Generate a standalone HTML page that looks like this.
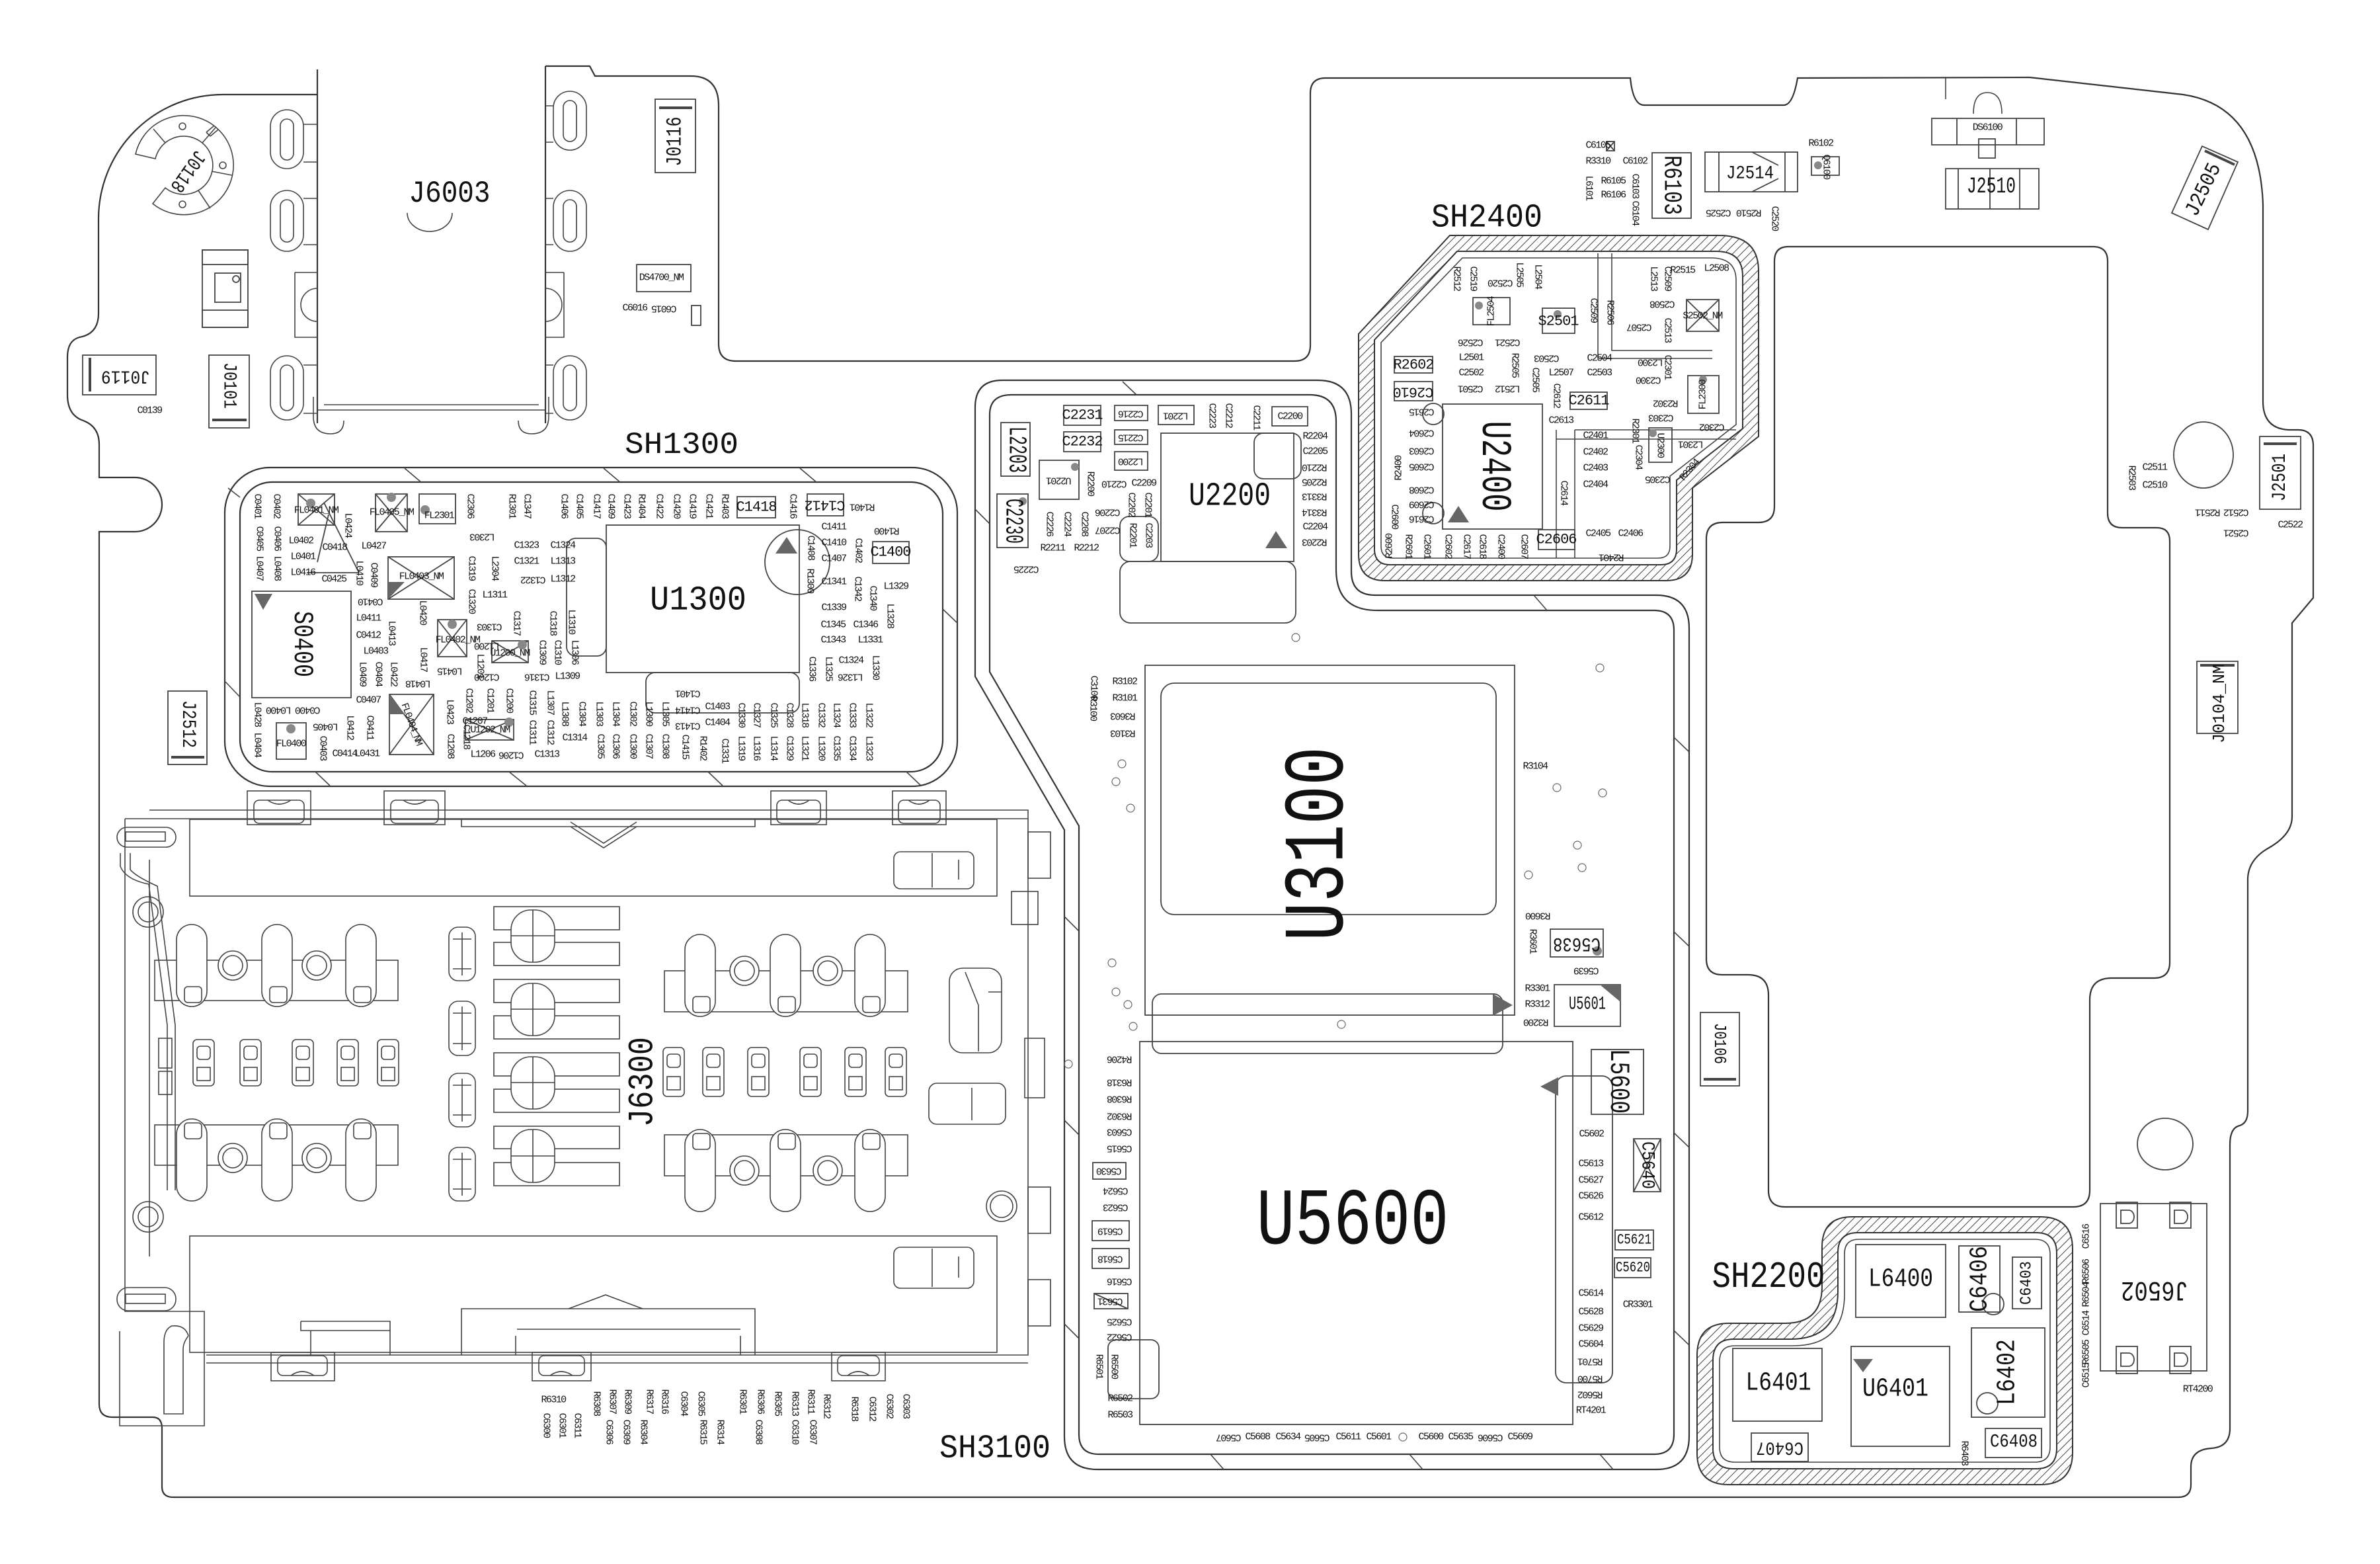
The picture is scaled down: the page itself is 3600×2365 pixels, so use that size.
<!DOCTYPE html>
<html><head><meta charset="utf-8">
<style>
html,body{margin:0;padding:0;background:#fff;}
svg{display:block;}
text{font-family:"Liberation Mono","DejaVu Sans Mono",monospace;fill:#111;}
.t{text-anchor:middle;dominant-baseline:central;}
.s{font-size:15px;letter-spacing:-1.6px;}
.m{font-size:22px;letter-spacing:-1px;}
.ln{fill:none;stroke:#333;stroke-width:2.2;}
.th{fill:none;stroke:#444;stroke-width:1.6;}
.bx{fill:none;stroke:#444;stroke-width:1.8;}
</style></head>
<body>
<svg width="3600" height="2365" viewBox="0 0 3600 2365" xmlns="http://www.w3.org/2000/svg">
<defs>
<pattern id="h" width="9" height="9" patternUnits="userSpaceOnUse" patternTransform="rotate(45)">
<rect width="9" height="9" fill="#fff"/><line x1="0" y1="0" x2="0" y2="9" stroke="#444" stroke-width="2"/>
</pattern>
</defs>
<rect width="3600" height="2365" fill="#fff"/>

<!-- BOARD OUTLINE -->
<path class="ln" d="M 474,143 L 337,143 A 188 188 0 0 0 149,331 L 149,474 Q 149,505 120,510 Q 102,515 102,540 L 102,597 Q 102,628 126,636 Q 150,645 150,672 L 150,722 L 204,722 A 41 41 0 0 1 204,804 L 150,804 L 150,2123 Q 150,2143 170,2143 L 231,2143 Q 245,2143 245,2160 L 245,2248 Q 245,2264 262,2264 L 3295,2264 Q 3314,2264 3314,2245 L 3314,2218 Q 3314,2192 3345,2190 Q 3373,2188 3373,2160 L 3373,1731 Q 3373,1705 3388,1702 Q 3400,1698 3400,1680 L 3400,1330 Q 3400,1300 3432,1282 Q 3467,1262 3467,1235 L 3467,942 L 3499,904 L 3499,674 Q 3499,650 3476,650 L 3462,650 Q 3423,648 3423,607 L 3423,310 Q 3418,160 3302,143 L 3070,117 L 2719,118 Q 2712,159 2698,159 L 2487,159 Q 2470,159 2466,118 L 2005,118 Q 1982,118 1982,141 L 1982,522 Q 1982,546 1958,546 L 1113,546 Q 1087,546 1087,520 L 1087,160 Q 1087,115 1045,115 L 900,115 L 892,100 L 825,100"/>
<path class="th" d="M 2943,118 L 2943,150 M 2985,172 Q 2985,140 3006,140 Q 3028,140 3028,172"/>

<!-- J6003 connector -->
<path class="ln" d="M 474,143 L 480,143 M 480,105 L 480,640 M 825,100 L 825,640"/>
<path class="th" d="M 490,612 L 815,612 M 480,620 L 825,620 M 474,600 L 474,630 Q 474,656 500,656 Q 520,656 520,636 M 830,600 L 830,630 Q 830,656 804,656 Q 784,656 784,636"/>
<g class="th">
<rect x="409" y="166" width="50" height="89" rx="25"/><rect x="424" y="180" width="20" height="62" rx="10"/>
<rect x="409" y="288" width="50" height="92" rx="25"/><rect x="424" y="302" width="20" height="64" rx="10"/>
<rect x="409" y="538" width="50" height="97" rx="25"/><rect x="424" y="552" width="20" height="69" rx="10"/>
<rect x="837" y="138" width="50" height="89" rx="25"/><rect x="852" y="152" width="20" height="62" rx="10"/>
<rect x="837" y="288" width="50" height="92" rx="25"/><rect x="852" y="302" width="20" height="64" rx="10"/>
<rect x="837" y="538" width="50" height="97" rx="25"/><rect x="852" y="552" width="20" height="69" rx="10"/>
<path d="M 446,412 L 480,412 M 446,412 L 446,510 L 480,510 M 480,436 A 23 23 0 0 0 480,486"/>
<path d="M 853,412 L 825,412 M 853,412 L 853,510 L 825,510 M 825,436 A 23 23 0 0 1 825,486"/>
<path d="M 459,188 L 480,188 M 459,245 L 480,245 M 459,300 L 480,300 M 459,370 L 480,370 M 459,552 L 480,552 M 459,625 L 480,625"/>
<path d="M 825,160 L 837,160 M 825,215 L 837,215 M 825,300 L 837,300 M 825,370 L 837,370 M 825,552 L 837,552 M 825,625 L 837,625"/>
<path d="M 616,322 A 34 28 0 0 0 684,322"/>
</g>
<text class="t" style="font-size:46px" x="680" y="293" textLength="123" lengthAdjust="spacingAndGlyphs">J6003</text>

<!-- J0118 ring -->
<g class="th">
<path d="M 205,233 A 75 75 0 1 1 231,308 L 250,284 A 44 44 0 1 0 235,240 Z"/>
<circle cx="276" cy="191" r="5"/><circle cx="276" cy="309" r="5"/><circle cx="337" cy="250" r="5"/>
<path d="M 306,216 L 326,193 M 320,259 L 351,265 M 300,288 L 318,315 M 250,216 L 232,195"/>
<path d="M 318,206 L 330,196 M 312,200 L 324,190 M 312,200 L 318,206"/>
</g>
<text class="t" style="font-size:30px" transform="translate(283,258) rotate(125)" textLength="70" lengthAdjust="spacingAndGlyphs">J0118</text>

<!-- top-left small parts -->
<g class="bx">
<rect x="306" y="378" width="69" height="117"/><rect x="306" y="378" width="69" height="22"/><rect x="306" y="469" width="69" height="26"/>
<rect x="325" y="413" width="39" height="44"/><circle cx="357" cy="422" r="5"/>
<rect x="125" y="537" width="111" height="60"/><line x1="136" y1="541" x2="136" y2="592" stroke-width="4"/>
<rect x="316" y="537" width="61" height="110"/><line x1="321" y1="635" x2="373" y2="635" stroke-width="4"/>
<rect x="254" y="1045" width="59" height="111"/><line x1="259" y1="1145" x2="309" y2="1145" stroke-width="4"/>
<rect x="991" y="150" width="61" height="111"/><line x1="997" y1="163" x2="1047" y2="163" stroke-width="4"/>
<rect x="963" y="400" width="82" height="41"/><rect x="1046" y="462" width="14" height="30"/>
</g>
<text class="t" style="font-size:32px" transform="translate(1021,214) rotate(-90)" textLength="75" lengthAdjust="spacingAndGlyphs">J0116</text>
<text class="t" style="font-size:28px" transform="translate(346,583) rotate(90)" textLength="70" lengthAdjust="spacingAndGlyphs">J0101</text>
<text class="t" style="font-size:28px" transform="translate(190,568) rotate(180)" textLength="74" lengthAdjust="spacingAndGlyphs">J0119</text>
<text class="t" style="font-size:30px" transform="translate(284,1095) rotate(90)" textLength="72" lengthAdjust="spacingAndGlyphs">J2512</text>
<text class="t s" x="226" y="621">C0139</text>
<text class="t s" x="1000" y="420">DS4700_NM</text>
<text class="t s" x="960" y="466">C6016</text>
<text class="t s" transform="translate(1005,466) rotate(180)">C6015</text>

<!-- SH1300 shield -->
<rect class="ln" x="340" y="707" width="1108" height="482" rx="68"/>
<rect class="ln" x="363" y="729" width="1063" height="438" rx="48"/>
<path class="th" d="M 612,708 L 638,730 M 913,708 L 939,730 M 1210,708 L 1236,730 M 477,1167 L 499,1188 M 770,1167 L 796,1188 M 1071,1167 L 1093,1188 M 1371,1167 L 1393,1188 M 345,738 L 363,752 M 341,1031 L 363,1054 M 1426,921 L 1448,942"/>
<text class="t" style="font-size:46px" x="1031" y="673" textLength="172" lengthAdjust="spacingAndGlyphs">SH1300</text>
<g class="bx">
<rect x="917" y="794" width="292" height="223"/>
<rect x="977" y="1017" width="232" height="61" rx="14"/>
<rect x="857" y="814" width="60" height="178" rx="14"/>
<circle cx="1206" cy="850" r="49"/>
<rect x="381" y="894" width="150" height="161"/>
<rect x="451" y="747" width="55" height="47"/><path d="M 451,747 L 506,794 M 506,747 L 451,794"/>
<rect x="568" y="747" width="48" height="57"/><path d="M 568,747 L 616,804 M 616,747 L 568,804"/>
<rect x="634" y="747" width="55" height="45"/>
<rect x="587" y="842" width="100" height="64"/><path d="M 587,842 L 687,906 M 687,842 L 587,906"/>
<rect x="662" y="937" width="44" height="56"/><path d="M 662,937 L 706,993 M 706,937 L 662,993"/>
<rect x="744" y="969" width="55" height="33"/><path d="M 744,969 L 799,1002 M 799,969 L 744,1002"/>
<rect x="589" y="1050" width="67" height="91"/><path d="M 589,1050 L 656,1141 M 656,1050 L 589,1141"/>
<rect x="704" y="1088" width="73" height="31"/><path d="M 704,1088 L 777,1119 M 777,1088 L 704,1119"/>
<rect x="418" y="1093" width="45" height="55"/>
<rect x="1115" y="751" width="58" height="32"/>
<rect x="1221" y="747" width="55" height="33"/>
<rect x="1320" y="819" width="55" height="33"/>
<path d="M 497,778 L 480,850 M 490,760 L 543,866 M 464,866 L 543,866"/>
</g>
<path d="M 1173,837 L 1206,837 L 1190,812 Z" fill="#666"/>
<path d="M 385,898 L 412,898 L 398,922 Z" fill="#666"/>
<path d="M 587,906 L 587,880 L 612,880 Z" fill="#666"/>
<path d="M 589,1050 L 589,1080 L 612,1080 Z" fill="#666"/>
<circle cx="470" cy="761" r="7" fill="#888"/><circle cx="592" cy="752" r="7" fill="#888"/><circle cx="643" cy="771" r="7" fill="#888"/><circle cx="684" cy="944" r="7" fill="#888"/><circle cx="440" cy="1102" r="7" fill="#888"/><circle cx="790" cy="975" r="7" fill="#888"/><circle cx="770" cy="1092" r="7" fill="#888"/>
<text class="t" style="font-size:52px" x="1056" y="908" textLength="146" lengthAdjust="spacingAndGlyphs">U1300</text>
<text class="t" style="font-size:42px" transform="translate(457,974) rotate(90)" textLength="100" lengthAdjust="spacingAndGlyphs">S0400</text>
<g class="s">
<text class="t" transform="translate(389,765) rotate(90)">C0401</text>
<text class="t" transform="translate(418,765) rotate(90)">C0402</text>
<text class="t" transform="translate(711,765) rotate(90)">C2306</text>
<text class="t" transform="translate(774,765) rotate(90)">R1301</text>
<text class="t" transform="translate(797,765) rotate(90)">C1347</text>
<text class="t" transform="translate(853,765) rotate(90)">C1406</text>
<text class="t" transform="translate(876,765) rotate(90)">C1405</text>
<text class="t" transform="translate(902,765) rotate(90)">C1417</text>
<text class="t" transform="translate(924,765) rotate(90)">C1409</text>
<text class="t" transform="translate(948,765) rotate(90)">C1423</text>
<text class="t" transform="translate(970,765) rotate(90)">R1404</text>
<text class="t" transform="translate(997,765) rotate(90)">C1422</text>
<text class="t" transform="translate(1023,765) rotate(90)">C1420</text>
<text class="t" transform="translate(1047,765) rotate(90)">C1419</text>
<text class="t" transform="translate(1072,765) rotate(90)">C1421</text>
<text class="t" transform="translate(1096,765) rotate(90)">R1403</text>
<text class="t" transform="translate(1199,765) rotate(90)">C1416</text>
<text class="t" transform="translate(1305,766) rotate(180)">R1401</text>
<text class="t" transform="translate(1342,802) rotate(180)">R1400</text>
<text class="t" x="1261" y="797">C1411</text>
<text class="t" x="1261" y="821">C1410</text>
<text class="t" transform="translate(1226,828) rotate(90)">C1408</text>
<text class="t" x="1261" y="845">C1407</text>
<text class="t" transform="translate(1298,832) rotate(90)">C1402</text>
<text class="t" transform="translate(1225,878) rotate(90)">R1300</text>
<text class="t" x="1261" y="880">C1341</text>
<text class="t" transform="translate(1297,890) rotate(90)">C1342</text>
<text class="t" transform="translate(1320,904) rotate(90)">C1340</text>
<text class="t" x="1355" y="887">L1329</text>
<text class="t" transform="translate(1346,931) rotate(90)">L1328</text>
<text class="t" x="1261" y="919">C1339</text>
<text class="t" x="1260" y="945">C1345</text>
<text class="t" x="1309" y="945">C1346</text>
<text class="t" x="1260" y="968">C1343</text>
<text class="t" x="1316" y="968">L1331</text>
<text class="t" transform="translate(1228,1011) rotate(90)">C1336</text>
<text class="t" transform="translate(1253,1011) rotate(90)">L1325</text>
<text class="t" x="1287" y="999">C1324</text>
<text class="t" transform="translate(1287,1023) rotate(180)">L1326</text>
<text class="t" transform="translate(1324,1009) rotate(90)">L1330</text>
<text class="t" transform="translate(392,814) rotate(90)">C0405</text>
<text class="t" transform="translate(419,814) rotate(90)">C0406</text>
<text class="t" transform="translate(392,859) rotate(90)">L0407</text>
<text class="t" transform="translate(419,859) rotate(90)">L0408</text>
<text class="t" x="455" y="818">L0402</text>
<text class="t" x="458" y="842">L0401</text>
<text class="t" x="458" y="866">L0416</text>
<text class="t" transform="translate(526,794) rotate(90)">L0424</text>
<text class="t" x="506" y="828">C0418</text>
<text class="t" x="505" y="876">C0425</text>
<text class="t" x="565" y="826">L0427</text>
<text class="t" transform="translate(543,866) rotate(90)">L0410</text>
<text class="t" transform="translate(565,869) rotate(90)">C0409</text>
<text class="t" transform="translate(730,811) rotate(180)">L2303</text>
<text class="t" transform="translate(713,859) rotate(90)">C1319</text>
<text class="t" transform="translate(748,859) rotate(90)">L2304</text>
<text class="t" transform="translate(713,909) rotate(90)">C1320</text>
<text class="t" x="748" y="900">L1311</text>
<text class="t" x="796" y="825">C1323</text>
<text class="t" x="851" y="825">C1324</text>
<text class="t" x="796" y="849">C1321</text>
<text class="t" x="851" y="849">L1313</text>
<text class="t" transform="translate(807,876) rotate(180)">C1322</text>
<text class="t" x="851" y="876">L1312</text>
<text class="t" transform="translate(561,909) rotate(180)">C0410</text>
<text class="t" x="557" y="935">L0411</text>
<text class="t" x="557" y="961">C0412</text>
<text class="t" x="568" y="985">L0403</text>
<text class="t" transform="translate(639,926) rotate(90)">L0420</text>
<text class="t" transform="translate(592,957) rotate(90)">L0413</text>
<text class="t" transform="translate(640,997) rotate(90)">L0417</text>
<text class="t" transform="translate(548,1019) rotate(90)">L0409</text>
<text class="t" transform="translate(572,1019) rotate(90)">C0404</text>
<text class="t" transform="translate(595,1019) rotate(90)">L0422</text>
<text class="t" transform="translate(681,1014) rotate(180)">L0415</text>
<text class="t" transform="translate(633,1033) rotate(180)">L0418</text>
<text class="t" x="557" y="1059">C0407</text>
<text class="t" transform="translate(741,947) rotate(180)">C1303</text>
<text class="t" transform="translate(781,942) rotate(90)">C1317</text>
<text class="t" transform="translate(836,942) rotate(90)">C1318</text>
<text class="t" transform="translate(820,986) rotate(90)">C1309</text>
<text class="t" transform="translate(843,986) rotate(90)">C1310</text>
<text class="t" transform="translate(864,940) rotate(90)">L1310</text>
<text class="t" transform="translate(869,986) rotate(90)">L1306</text>
<text class="t" transform="translate(813,1023) rotate(180)">C1316</text>
<text class="t" x="858" y="1023">L1309</text>
<text class="t" transform="translate(737,976) rotate(180)">L1200</text>
<text class="t" transform="translate(737,1023) rotate(180)">C1200</text>
<text class="t" transform="translate(726,1007) rotate(90)">L1201</text>
<text class="t" transform="translate(466,1073) rotate(180)">C0400</text>
<text class="t" transform="translate(422,1073) rotate(180)">L0400</text>
<text class="t" transform="translate(389,1080) rotate(90)">L0428</text>
<text class="t" transform="translate(389,1126) rotate(90)">L0404</text>
<text class="t" transform="translate(493,1098) rotate(180)">L0405</text>
<text class="t" transform="translate(529,1100) rotate(90)">L0412</text>
<text class="t" transform="translate(559,1100) rotate(90)">C0411</text>
<text class="t" transform="translate(488,1131) rotate(90)">C0403</text>
<text class="t" x="521" y="1140">C0414</text>
<text class="t" x="555" y="1140">L0431</text>
<text class="t" transform="translate(680,1076) rotate(90)">L0423</text>
<text class="t" transform="translate(709,1059) rotate(90)">C1202</text>
<text class="t" transform="translate(741,1059) rotate(90)">C1201</text>
<text class="t" transform="translate(770,1059) rotate(90)">C1200</text>
<text class="t" x="718" y="1091">C1207</text>
<text class="t" transform="translate(681,1128) rotate(90)">C1208</text>
<text class="t" transform="translate(705,1114) rotate(90)">C1218</text>
<text class="t" x="730" y="1141">L1206</text>
<text class="t" transform="translate(774,1141) rotate(180)">C1206</text>
<text class="t" transform="translate(805,1062) rotate(90)">C1315</text>
<text class="t" transform="translate(832,1062) rotate(90)">L1307</text>
<text class="t" transform="translate(805,1107) rotate(90)">C1311</text>
<text class="t" transform="translate(832,1107) rotate(90)">C1312</text>
<text class="t" x="827" y="1141">C1313</text>
<text class="t" x="869" y="1116">C1314</text>
<text class="t" transform="translate(854,1079) rotate(90)">L1308</text>
<text class="t" transform="translate(880,1079) rotate(90)">C1304</text>
<text class="t" transform="translate(906,1079) rotate(90)">L1303</text>
<text class="t" transform="translate(931,1079) rotate(90)">L1304</text>
<text class="t" transform="translate(957,1079) rotate(90)">C1302</text>
<text class="t" transform="translate(981,1079) rotate(90)">L1300</text>
<text class="t" transform="translate(1006,1079) rotate(90)">L1305</text>
<text class="t" transform="translate(908,1128) rotate(90)">C1305</text>
<text class="t" transform="translate(931,1128) rotate(90)">C1306</text>
<text class="t" transform="translate(957,1128) rotate(90)">C1300</text>
<text class="t" transform="translate(981,1128) rotate(90)">C1307</text>
<text class="t" transform="translate(1006,1128) rotate(90)">C1308</text>
<text class="t" transform="translate(1041,1048) rotate(180)">C1401</text>
<text class="t" transform="translate(1041,1073) rotate(180)">C1414</text>
<text class="t" x="1085" y="1069">C1403</text>
<text class="t" transform="translate(1041,1097) rotate(180)">C1413</text>
<text class="t" x="1085" y="1093">C1404</text>
<text class="t" transform="translate(1036,1129) rotate(90)">C1415</text>
<text class="t" transform="translate(1063,1131) rotate(90)">R1402</text>
<text class="t" transform="translate(1096,1135) rotate(90)">C1331</text>
<text class="t" transform="translate(1121,1081) rotate(90)">C1330</text>
<text class="t" transform="translate(1144,1081) rotate(90)">C1327</text>
<text class="t" transform="translate(1170,1081) rotate(90)">C1325</text>
<text class="t" transform="translate(1194,1081) rotate(90)">C1328</text>
<text class="t" transform="translate(1217,1081) rotate(90)">L1318</text>
<text class="t" transform="translate(1242,1081) rotate(90)">C1332</text>
<text class="t" transform="translate(1265,1081) rotate(90)">L1324</text>
<text class="t" transform="translate(1289,1081) rotate(90)">C1333</text>
<text class="t" transform="translate(1314,1081) rotate(90)">L1322</text>
<text class="t" transform="translate(1121,1131) rotate(90)">L1319</text>
<text class="t" transform="translate(1144,1131) rotate(90)">L1316</text>
<text class="t" transform="translate(1170,1131) rotate(90)">L1314</text>
<text class="t" transform="translate(1194,1131) rotate(90)">C1329</text>
<text class="t" transform="translate(1217,1131) rotate(90)">L1321</text>
<text class="t" transform="translate(1242,1131) rotate(90)">L1320</text>
<text class="t" transform="translate(1265,1131) rotate(90)">C1335</text>
<text class="t" transform="translate(1289,1131) rotate(90)">C1334</text>
<text class="t" transform="translate(1314,1131) rotate(90)">L1323</text>
<text class="t" x="478" y="772">FL0401_NM</text>
<text class="t" x="592" y="775">FL0405_NM</text>
<text class="t" x="664" y="780">FL2301</text>
<text class="t" x="637" y="872">FL0403_NM</text>
<text class="t" x="692" y="968">FL0402_NM</text>
<text class="t" x="771" y="988">U1200_NM</text>
<text class="t" transform="translate(622,1095) rotate(70)">FL0404_NM</text>
<text class="t" x="741" y="1104">U1202_NM</text>
<text class="t" x="440" y="1125">FL0400</text>
</g>
<text class="t m" x="1144" y="767">C1418</text>
<text class="t m" transform="translate(1248,763) rotate(180)">C1412</text>
<text class="t m" x="1347" y="835">C1400</text>

<!-- SH3100 shield -->
<path class="ln" d="M 1516,575 L 1993,575 Q 2044,575 2044,626 L 2044,864 Q 2044,900 2080,900 L 2505,900 Q 2555,900 2555,950 L 2555,2172 Q 2555,2222 2505,2222 L 1660,2222 Q 1610,2222 1610,2172 L 1610,1255 L 1475,1023 L 1475,616 Q 1475,575 1516,575 Z"/>
<path class="ln" d="M 1530,597 L 1981,597 Q 2021,597 2021,637 L 2021,861 Q 2021,923 2083,923 L 2502,923 Q 2532,923 2532,953 L 2532,2169 Q 2532,2199 2502,2199 L 1662,2199 Q 1632,2199 1632,2169 L 1632,1249 L 1497,1016 L 1497,627 Q 1497,597 1530,597 Z"/>
<path class="th" d="M 1698,577 L 1719,597 M 2320,900 L 2340,923 M 1610,1386 L 1632,1408 M 1610,1694 L 1632,1716 M 1610,2002 L 1632,2024 M 2532,1115 L 2555,1137 M 2532,1409 L 2555,1431 M 2532,1713 L 2555,1735 M 2532,2012 L 2555,2034 M 1831,2199 L 1851,2222 M 2132,2199 L 2152,2222 M 2420,2199 L 2440,2222 M 1475,770 L 1497,792"/>
<text class="t" style="font-size:50px" x="1505" y="2191" textLength="168" lengthAdjust="spacingAndGlyphs">SH3100</text>

<!-- U2200 region -->
<g class="bx">
<rect x="1756" y="655" width="201" height="194"/>
<rect x="1897" y="655" width="71" height="69" rx="14"/>
<rect x="1694" y="781" width="58" height="68" rx="14"/>
<rect x="1694" y="849" width="266" height="93" rx="16"/>
<rect x="1514" y="639" width="44" height="81"/>
<rect x="1508" y="747" width="47" height="81"/>
<rect x="1572" y="696" width="60" height="59"/>
<rect x="1609" y="613" width="56" height="30"/>
<rect x="1609" y="653" width="56" height="30"/>
<rect x="1686" y="613" width="50" height="23"/>
<rect x="1686" y="650" width="50" height="22"/>
<rect x="1686" y="683" width="50" height="28"/>
<rect x="1752" y="613" width="54" height="29"/>
<rect x="1924" y="615" width="54" height="29"/>
</g>
<path d="M 1914,829 L 1947,829 L 1930,803 Z" fill="#666"/>
<circle cx="1626" cy="706" r="6" fill="#888"/><circle cx="1547" cy="758" r="6" fill="#888"/>
<text class="t" style="font-size:50px" x="1860" y="751" textLength="124" lengthAdjust="spacingAndGlyphs">U2200</text>
<text class="t" style="font-size:38px" transform="translate(1537,680) rotate(90)" textLength="70" lengthAdjust="spacingAndGlyphs">L2203</text>
<text class="t" style="font-size:38px" transform="translate(1532,788) rotate(90)" textLength="68" lengthAdjust="spacingAndGlyphs">C2230</text>
<text class="t m" x="1637" y="628">C2231</text>
<text class="t m" x="1637" y="668">C2232</text>
<text class="t s" transform="translate(1711,625) rotate(180)">C2216</text>
<text class="t s" transform="translate(1711,661) rotate(180)">C2215</text>
<text class="t s" transform="translate(1711,697) rotate(180)">L2200</text>
<text class="t s" transform="translate(1779,628) rotate(180)">L2201</text>
<text class="t s" x="1951" y="630">C2200</text>
<text class="t s" transform="translate(1602,726) rotate(180)">U2201</text>
<g class="s">
<text class="t" transform="translate(1833,628) rotate(90)">C2223</text>
<text class="t" transform="translate(1858,628) rotate(90)">C2212</text>
<text class="t" transform="translate(1900,631) rotate(90)">C2211</text>
<text class="t" x="1989" y="660">R2204</text>
<text class="t" x="1989" y="683">C2205</text>
<text class="t" transform="translate(1989,706) rotate(180)">R2210</text>
<text class="t" transform="translate(1989,728) rotate(180)">R2205</text>
<text class="t" transform="translate(1989,750) rotate(180)">R3313</text>
<text class="t" transform="translate(1989,774) rotate(180)">R3314</text>
<text class="t" x="1989" y="797">C2204</text>
<text class="t" transform="translate(1989,819) rotate(180)">R2203</text>
<text class="t" transform="translate(1649,731) rotate(90)">R2200</text>
<text class="t" transform="translate(1686,731) rotate(180)">C2210</text>
<text class="t" x="1730" y="731">C2209</text>
<text class="t" transform="translate(1711,763) rotate(90)">C2202</text>
<text class="t" transform="translate(1736,763) rotate(90)">C2201</text>
<text class="t" transform="translate(1676,774) rotate(180)">C2206</text>
<text class="t" transform="translate(1676,801) rotate(180)">C2207</text>
<text class="t" transform="translate(1713,809) rotate(90)">R2201</text>
<text class="t" transform="translate(1737,809) rotate(90)">C2203</text>
<text class="t" transform="translate(1587,792) rotate(90)">C2226</text>
<text class="t" transform="translate(1614,792) rotate(90)">C2224</text>
<text class="t" transform="translate(1640,792) rotate(90)">C2208</text>
<text class="t" x="1592" y="829">R2211</text>
<text class="t" x="1643" y="829">R2212</text>
<text class="t" transform="translate(1553,860) rotate(180)">C2225</text>
</g>

<!-- U3100 / U5600 -->
<g class="bx">
<rect x="1732" y="1006" width="559" height="529"/>
<rect x="1756" y="1033" width="507" height="350" rx="20"/>
<rect x="1743" y="1503" width="530" height="90" rx="14"/>
<rect x="1724" y="1575" width="655" height="579"/>
<rect x="2353" y="1627" width="86" height="464" rx="16"/>
<rect x="1676" y="2026" width="77" height="89" rx="12"/>
<rect x="2351" y="1489" width="100" height="63"/>
<rect x="2345" y="1405" width="80" height="42"/>
<rect x="2407" y="1587" width="79" height="98"/>
<rect x="2471" y="1722" width="41" height="80"/><path d="M 2471,1722 L 2512,1802 M 2512,1722 L 2471,1802"/>
<rect x="2443" y="1860" width="58" height="30"/>
<rect x="2442" y="1902" width="55" height="30"/>
<rect x="1653" y="1758" width="50" height="25"/>
<rect x="1652" y="1846" width="56" height="30"/>
<rect x="1652" y="1888" width="56" height="30"/>
<rect x="1655" y="1956" width="51" height="23"/><path d="M 1655,1956 L 1706,1979"/>
<rect x="2572" y="1531" width="59" height="111"/><line x1="2577" y1="1632" x2="2626" y2="1632" stroke-width="4"/>
</g>
<path d="M 2258,1503 L 2258,1536 L 2288,1520 Z" fill="#666"/>
<path d="M 2357,1629 L 2357,1657 L 2330,1643 Z" fill="#666"/>
<path d="M 2420,1489 L 2451,1489 L 2451,1515 Z" fill="#666"/>
<circle cx="2416" cy="1438" r="7" fill="#888"/>
<text class="t" style="font-size:130px" transform="translate(1997,1276) rotate(-90)" textLength="294" lengthAdjust="spacingAndGlyphs">U3100</text>
<text class="t" style="font-size:122px" x="2046" y="1848" textLength="291" lengthAdjust="spacingAndGlyphs">U5600</text>
<text class="t" style="font-size:28px" x="2401" y="1519" textLength="56" lengthAdjust="spacingAndGlyphs">U5601</text>
<text class="t" style="font-size:30px" transform="translate(2385,1426) rotate(180)" textLength="72" lengthAdjust="spacingAndGlyphs">C5638</text>
<text class="t" style="font-size:42px" transform="translate(2448,1635) rotate(90)" textLength="98" lengthAdjust="spacingAndGlyphs">L5600</text>
<text class="t" style="font-size:28px" transform="translate(2491,1762) rotate(90)" textLength="72" lengthAdjust="spacingAndGlyphs">C5640</text>
<text class="t" style="font-size:22px" x="2472" y="1875" textLength="52" lengthAdjust="spacingAndGlyphs">C5621</text>
<text class="t" style="font-size:22px" x="2470" y="1917" textLength="52" lengthAdjust="spacingAndGlyphs">C5620</text>
<text class="t" style="font-size:26px" transform="translate(2601,1578) rotate(90)" textLength="62" lengthAdjust="spacingAndGlyphs">J0106</text>
<g class="s">
<text class="t" x="1701" y="1031">R3102</text>
<text class="t" x="1701" y="1056">R3101</text>
<text class="t" transform="translate(1699,1082) rotate(180)">R3603</text>
<text class="t" transform="translate(1699,1108) rotate(180)">R3103</text>
<text class="t" transform="translate(1653,1071) rotate(90)">R3100</text>
<text class="t" transform="translate(1654,1040) rotate(90)">C3100</text>
<text class="t" transform="translate(1694,1601) rotate(180)">R4206</text>
<text class="t" transform="translate(1694,1636) rotate(180)">R6318</text>
<text class="t" transform="translate(1694,1661) rotate(180)">R6308</text>
<text class="t" transform="translate(1694,1687) rotate(180)">R6302</text>
<text class="t" transform="translate(1694,1711) rotate(180)">C5603</text>
<text class="t" transform="translate(1694,1736) rotate(180)">C5615</text>
<text class="t" transform="translate(1678,1770) rotate(180)">C5630</text>
<text class="t" transform="translate(1688,1800) rotate(180)">C5624</text>
<text class="t" transform="translate(1688,1825) rotate(180)">C5623</text>
<text class="t" transform="translate(1680,1861) rotate(180)">C5619</text>
<text class="t" transform="translate(1680,1903) rotate(180)">C5618</text>
<text class="t" transform="translate(1694,1937) rotate(180)">C5616</text>
<text class="t" transform="translate(1680,1967) rotate(180)">C5631</text>
<text class="t" transform="translate(1694,1998) rotate(180)">C5625</text>
<text class="t" transform="translate(1694,2021) rotate(180)">C5622</text>
<text class="t" transform="translate(1662,2066) rotate(90)">R6501</text>
<text class="t" transform="translate(1685,2066) rotate(90)">R6500</text>
<text class="t" x="1694" y="2115">R6502</text>
<text class="t" x="1694" y="2140">R6503</text>
<text class="t" transform="translate(1859,2173) rotate(180)">C5607</text>
<text class="t" x="1902" y="2173">C5608</text>
<text class="t" x="1948" y="2173">C5634</text>
<text class="t" transform="translate(1993,2173) rotate(180)">C5605</text>
<text class="t" x="2039" y="2173">C5611</text>
<text class="t" x="2085" y="2173">C5601</text>
<text class="t" x="2164" y="2173">C5600</text>
<text class="t" x="2209" y="2173">C5635</text>
<text class="t" transform="translate(2255,2173) rotate(180)">C5606</text>
<text class="t" x="2299" y="2173">C5609</text>
<text class="t" x="2322" y="1159">R3104</text>
<text class="t" transform="translate(2327,1384) rotate(180)">R3600</text>
<text class="t" transform="translate(2318,1423) rotate(90)">R3601</text>
<text class="t" transform="translate(2400,1467) rotate(180)">C5639</text>
<text class="t" x="2325" y="1495">R3301</text>
<text class="t" x="2325" y="1519">R3312</text>
<text class="t" transform="translate(2324,1545) rotate(180)">R3200</text>
<text class="t" x="2407" y="1715">C5602</text>
<text class="t" x="2406" y="1760">C5613</text>
<text class="t" x="2406" y="1785">C5627</text>
<text class="t" x="2406" y="1809">C5626</text>
<text class="t" x="2406" y="1841">C5612</text>
<text class="t" x="2406" y="1956">C5614</text>
<text class="t" x="2406" y="1984">C5628</text>
<text class="t" x="2406" y="2009">C5629</text>
<text class="t" x="2406" y="2033">C5604</text>
<text class="t" transform="translate(2406,2058) rotate(180)">R5701</text>
<text class="t" transform="translate(2406,2084) rotate(180)">R5700</text>
<text class="t" transform="translate(2406,2108) rotate(180)">R5602</text>
<text class="t" x="2406" y="2133">RT4201</text>
<text class="t" x="2477" y="1973">CR3301</text>
</g>
<g fill="none" stroke="#666" stroke-width="1.2">
<circle cx="1960" cy="964" r="6"/><circle cx="1697" cy="1155" r="6"/><circle cx="1688" cy="1182" r="6"/><circle cx="1710" cy="1222" r="6"/><circle cx="1682" cy="1456" r="6"/><circle cx="1688" cy="1500" r="6"/><circle cx="1706" cy="1519" r="6"/><circle cx="1714" cy="1552" r="6"/><circle cx="1616" cy="1609" r="6"/><circle cx="2029" cy="1549" r="6"/><circle cx="2122" cy="2173" r="6"/><circle cx="2420" cy="1010" r="6"/><circle cx="2424" cy="1199" r="6"/><circle cx="2355" cy="1191" r="6"/><circle cx="2386" cy="1278" r="6"/><circle cx="2312" cy="1323" r="6"/><circle cx="2393" cy="1312" r="6"/>
</g>

<!-- SH2400 hatched shield -->
<path d="M 2193,356 L 2600,356 Q 2660,356 2660,410 L 2660,660 L 2560,738 L 2560,838 Q 2560,878 2520,878 L 2095,878 Q 2055,878 2055,838 L 2055,505 Z" fill="url(#h)" stroke="#333" stroke-width="2"/>
<path d="M 2204,380 L 2596,380 Q 2636,380 2636,418 L 2636,648 L 2536,726 L 2536,830 Q 2536,854 2512,854 L 2103,854 Q 2079,854 2079,830 L 2079,514 Z" fill="#fff" stroke="#333" stroke-width="2"/>
<path class="th" d="M 2212,390 L 2588,390 Q 2626,390 2626,424 L 2626,642 L 2526,720 L 2526,826 Q 2526,844 2508,844 L 2107,844 Q 2089,844 2089,826 L 2089,518 Z"/>
<path class="th" d="M 2417,383 L 2417,542 L 2590,542 M 2438,383 L 2438,530 L 2590,530 M 2354,650 L 2354,844 M 2382,650 L 2382,844 M 2382,650 L 2626,650 M 2354,664 L 2626,664"/>
<g class="bx">
<rect x="2182" y="611" width="151" height="189"/>
<rect x="2109" y="539" width="58" height="25"/>
<rect x="2109" y="577" width="58" height="29"/>
<rect x="2375" y="593" width="56" height="26"/>
<rect x="2333" y="466" width="49" height="38"/>
<rect x="2228" y="450" width="56" height="41"/>
<rect x="2551" y="453" width="49" height="48"/><path d="M 2551,453 L 2600,501 M 2600,453 L 2551,501"/>
<rect x="2553" y="568" width="47" height="57"/>
<rect x="2327" y="801" width="55" height="30"/>
<rect x="2494" y="647" width="35" height="52"/>
<circle cx="2168" cy="626" r="16"/><circle cx="2168" cy="776" r="16"/>
</g>
<path d="M 2190,790 L 2222,790 L 2206,765 Z" fill="#666"/>
<circle cx="2356" cy="475" r="6" fill="#888"/><circle cx="2576" cy="574" r="6" fill="#888"/><circle cx="2237" cy="462" r="6" fill="#888"/><circle cx="2500" cy="655" r="6" fill="#888"/>
<text class="t" style="font-size:50px" x="2249" y="330" textLength="168" lengthAdjust="spacingAndGlyphs">SH2400</text>
<text class="t" style="font-size:64px" transform="translate(2259,705) rotate(90)" textLength="137" lengthAdjust="spacingAndGlyphs">U2400</text>
<text class="t m" x="2138" y="552">R2602</text>
<text class="t m" transform="translate(2138,592) rotate(180)">C2610</text>
<text class="t m" x="2403" y="606">C2611</text>
<text class="t m" x="2357" y="486">S2501</text>
<text class="t m" x="2354" y="816">C2606</text>
<text class="t s" transform="translate(2256,471) rotate(-90)">FL2504</text>
<text class="t s" x="2575" y="478">S2502_NM</text>
<text class="t s" transform="translate(2576,597) rotate(-90)">FL2300</text>
<text class="t s" transform="translate(2511,673) rotate(90)">U2300</text>
<g class="s">
<text class="t" transform="translate(2203,421) rotate(90)">R2512</text>
<text class="t" transform="translate(2228,421) rotate(90)">C2519</text>
<text class="t" transform="translate(2270,427) rotate(180)">C2520</text>
<text class="t" transform="translate(2298,415) rotate(90)">L2505</text>
<text class="t" transform="translate(2326,418) rotate(90)">L2504</text>
<text class="t" transform="translate(2410,469) rotate(90)">C2509</text>
<text class="t" transform="translate(2435,472) rotate(90)">R2506</text>
<text class="t" transform="translate(2501,421) rotate(90)">L2513</text>
<text class="t" transform="translate(2522,421) rotate(90)">C2509</text>
<text class="t" x="2545" y="409">R2515</text>
<text class="t" x="2596" y="406">L2508</text>
<text class="t" transform="translate(2515,459) rotate(180)">C2508</text>
<text class="t" transform="translate(2480,494) rotate(180)">C2507</text>
<text class="t" transform="translate(2522,499) rotate(90)">C2513</text>
<text class="t" transform="translate(2225,517) rotate(180)">C2526</text>
<text class="t" transform="translate(2281,517) rotate(180)">C2521</text>
<text class="t" x="2225" y="541">L2501</text>
<text class="t" transform="translate(2291,552) rotate(90)">R2505</text>
<text class="t" transform="translate(2340,541) rotate(180)">C2503</text>
<text class="t" x="2225" y="564">C2502</text>
<text class="t" transform="translate(2322,574) rotate(90)">C2505</text>
<text class="t" x="2361" y="564">L2507</text>
<text class="t" transform="translate(2225,587) rotate(180)">C2501</text>
<text class="t" transform="translate(2281,587) rotate(180)">L2512</text>
<text class="t" transform="translate(2354,598) rotate(90)">C2612</text>
<text class="t" x="2361" y="636">C2613</text>
<text class="t" x="2419" y="542">C2504</text>
<text class="t" x="2419" y="564">C2503</text>
<text class="t" transform="translate(2497,547) rotate(180)">L2300</text>
<text class="t" transform="translate(2522,555) rotate(90)">C2301</text>
<text class="t" transform="translate(2494,574) rotate(180)">C2300</text>
<text class="t" transform="translate(2520,609) rotate(180)">R2302</text>
<text class="t" transform="translate(2513,631) rotate(180)">C2303</text>
<text class="t" transform="translate(2590,645) rotate(180)">C2302</text>
<text class="t" transform="translate(2473,651) rotate(90)">R2301</text>
<text class="t" x="2413" y="659">C2401</text>
<text class="t" x="2413" y="684">C2402</text>
<text class="t" x="2413" y="708">C2403</text>
<text class="t" x="2413" y="733">C2404</text>
<text class="t" transform="translate(2365,745) rotate(90)">C2614</text>
<text class="t" transform="translate(2478,691) rotate(90)">C2304</text>
<text class="t" transform="translate(2508,724) rotate(180)">C2305</text>
<text class="t" transform="translate(2558,671) rotate(180)">L2301</text>
<text class="t" transform="translate(2556,711) rotate(-50)">R2304</text>
<text class="t" transform="translate(2151,622) rotate(180)">C2615</text>
<text class="t" transform="translate(2151,654) rotate(180)">C2604</text>
<text class="t" transform="translate(2151,681) rotate(180)">C2603</text>
<text class="t" transform="translate(2151,705) rotate(180)">C2605</text>
<text class="t" transform="translate(2116,708) rotate(-90)">R2400</text>
<text class="t" transform="translate(2151,740) rotate(180)">C2608</text>
<text class="t" transform="translate(2151,762) rotate(180)">C2609</text>
<text class="t" transform="translate(2151,784) rotate(180)">C2616</text>
<text class="t" transform="translate(2109,781) rotate(90)">C2600</text>
<text class="t" transform="translate(2102,826) rotate(-90)">R2600</text>
<text class="t" transform="translate(2130,826) rotate(90)">R2601</text>
<text class="t" transform="translate(2158,826) rotate(90)">C2601</text>
<text class="t" transform="translate(2190,826) rotate(90)">C2602</text>
<text class="t" transform="translate(2218,826) rotate(90)">C2617</text>
<text class="t" transform="translate(2242,826) rotate(90)">C2618</text>
<text class="t" transform="translate(2270,826) rotate(90)">C2400</text>
<text class="t" transform="translate(2305,826) rotate(90)">C2607</text>
<text class="t" transform="translate(2438,842) rotate(180)">R2401</text>
<text class="t" x="2417" y="807">C2405</text>
<text class="t" x="2466" y="807">C2406</text>
</g>

<!-- inner right region -->
<path class="ln" d="M 2705,373 L 3166,373 Q 3188,373 3188,395 L 3188,776 Q 3188,798 3210,798 L 3262,798 Q 3282,798 3282,818 L 3282,1455 Q 3282,1479 3258,1479 L 3194,1479 Q 3161,1479 3161,1512 L 3161,1800 Q 3161,1825 3136,1825 L 2700,1825 Q 2675,1825 2675,1800 L 2675,1505 Q 2675,1474 2644,1474 L 2605,1474 Q 2581,1474 2581,1450 L 2581,815 Q 2581,790 2606,790 L 2660,790 Q 2684,790 2684,766 L 2684,395 Q 2684,373 2705,373 Z"/>

<!-- top right components -->
<g class="bx">
<rect x="2499" y="231" width="59" height="99"/>
<rect x="2579" y="230" width="140" height="60"/><path d="M 2600,230 L 2600,290 M 2700,230 L 2700,290 M 2650,230 L 2690,250 M 2650,290 L 2690,270"/>
<rect x="2943" y="255" width="141" height="61"/><path d="M 2962,255 L 2962,316 M 3055,255 L 3055,316 M 3010,255 L 3010,316"/>
<rect x="2922" y="179" width="170" height="40"/><path d="M 2960,179 L 2960,219 M 3050,179 L 3050,219"/><rect x="2993" y="210" width="25" height="29"/>
<rect x="2740" y="237" width="42" height="28"/>
<path d="M 3285,322 L 3331,221 L 3385,245 L 3340,347 Z"/><path d="M 3335,228 L 3380,249" stroke-width="4"/>
<rect x="3418" y="660" width="62" height="110"/><line x1="3424" y1="671" x2="3474" y2="671" stroke-width="4"/>
<rect x="3323" y="1000" width="62" height="109"/><line x1="3328" y1="1006" x2="3380" y2="1006" stroke-width="4"/>
<ellipse cx="3333" cy="688" rx="45" ry="50"/>
<ellipse cx="3275" cy="1730" rx="42" ry="39"/>
<rect x="2430" y="214" width="12" height="14"/><path d="M 2430,214 L 2442,228 M 2442,214 L 2430,228"/>
</g>
<circle cx="2750" cy="250" r="6" fill="#888"/>
<text class="t" style="font-size:38px" transform="translate(2528,280) rotate(90)" textLength="90" lengthAdjust="spacingAndGlyphs">R6103</text>
<text class="t" style="font-size:28px" x="2647" y="263" textLength="72" lengthAdjust="spacingAndGlyphs">J2514</text>
<text class="t" style="font-size:34px" x="3012" y="283" textLength="74" lengthAdjust="spacingAndGlyphs">J2510</text>
<text class="t" style="font-size:32px" transform="translate(3333,287) rotate(-64)" textLength="85" lengthAdjust="spacingAndGlyphs">J2505</text>
<text class="t" style="font-size:30px" transform="translate(3449,722) rotate(-90)" textLength="72" lengthAdjust="spacingAndGlyphs">J2501</text>
<text class="t" style="font-size:26px" transform="translate(3357,1064) rotate(-90)" textLength="120" lengthAdjust="spacingAndGlyphs">J0104_NM</text>
<g class="s">
<text class="t" x="3006" y="193">DS6100</text>
<text class="t" x="2417" y="220">C6105</text>
<text class="t" x="2417" y="244">R3310</text>
<text class="t" x="2473" y="244">C6102</text>
<text class="t" x="2440" y="274">R6105</text>
<text class="t" x="2440" y="295">R6106</text>
<text class="t" transform="translate(2403,284) rotate(90)">L6101</text>
<text class="t" transform="translate(2473,281) rotate(90)">C6103</text>
<text class="t" transform="translate(2473,322) rotate(90)">C6104</text>
<text class="t" transform="translate(2600,321) rotate(180)">C2525</text>
<text class="t" transform="translate(2646,321) rotate(180)">R2510</text>
<text class="t" transform="translate(2684,330) rotate(90)">C2520</text>
<text class="t" x="2754" y="217">R6102</text>
<text class="t" transform="translate(2762,252) rotate(90)">Q6100</text>
<text class="t" transform="translate(3224,722) rotate(90)">R2503</text>
<text class="t" x="3259" y="707">C2511</text>
<text class="t" x="3259" y="734">C2510</text>
<text class="t" transform="translate(3383,774) rotate(180)">C2512</text>
<text class="t" transform="translate(3340,774) rotate(180)">R2511</text>
<text class="t" transform="translate(3383,805) rotate(180)">C2521</text>
<text class="t" x="3464" y="794">C2522</text>
</g>

<!-- SH2200 hatched shield -->
<path d="M 2802,1840 L 3086,1840 Q 3135,1840 3135,1889 L 3135,2196 Q 3135,2245 3086,2245 L 2615,2245 Q 2567,2245 2567,2197 L 2567,2050 Q 2567,2001 2615,2001 L 2700,2001 Q 2756,2001 2756,1945 L 2756,1886 Q 2756,1840 2802,1840 Z" fill="url(#h)" stroke="#333" stroke-width="2"/>
<path d="M 2810,1864 L 3080,1864 Q 3111,1864 3111,1895 L 3111,2190 Q 3111,2221 3080,2221 L 2622,2221 Q 2591,2221 2591,2190 L 2591,2057 Q 2591,2025 2622,2025 L 2708,2025 Q 2780,2025 2780,1953 L 2780,1894 Q 2780,1864 2810,1864 Z" fill="#fff" stroke="#333" stroke-width="2"/>
<path class="th" d="M 2812,1874 L 3078,1874 Q 3101,1874 3101,1897 L 3101,2188 Q 3101,2211 3078,2211 L 2624,2211 Q 2601,2211 2601,2188 L 2601,2059 Q 2601,2035 2624,2035 L 2712,2035 Q 2790,2035 2790,1957 L 2790,1896 Q 2790,1874 2812,1874 Z"/>
<g class="bx">
<rect x="2807" y="1882" width="136" height="110"/>
<rect x="2963" y="1884" width="62" height="100"/>
<rect x="3044" y="1901" width="44" height="78"/>
<rect x="2621" y="2039" width="135" height="110"/>
<rect x="2800" y="2036" width="149" height="151"/>
<rect x="2982" y="2008" width="111" height="135"/>
<rect x="3003" y="2160" width="85" height="44"/>
<rect x="2649" y="2167" width="86" height="43"/>
<circle cx="3015" cy="1972" r="16"/><circle cx="3006" cy="2122" r="16"/>
<rect x="3177" y="1820" width="161" height="253"/>
<rect x="3201" y="1818" width="32" height="39"/><rect x="3282" y="1818" width="32" height="39"/>
<rect x="3201" y="2036" width="32" height="41"/><rect x="3282" y="2036" width="32" height="41"/>
<path d="M 3208,1830 L 3220,1830 A 8 10 0 0 1 3220,1850 L 3208,1850 Z M 3289,1830 L 3301,1830 A 8 10 0 0 1 3301,1850 L 3289,1850 Z M 3208,2046 L 3220,2046 A 8 10 0 0 1 3220,2066 L 3208,2066 Z M 3289,2046 L 3301,2046 A 8 10 0 0 1 3301,2066 L 3289,2066 Z"/>
</g>
<path d="M 2803,2055 L 2833,2055 L 2818,2075 Z" fill="#666"/>
<text class="t" style="font-size:56px" x="2675" y="1931" textLength="171" lengthAdjust="spacingAndGlyphs">SH2200</text>
<text class="t" style="font-size:40px" x="2875" y="1935" textLength="98" lengthAdjust="spacingAndGlyphs">L6400</text>
<text class="t" style="font-size:40px" x="2690" y="2092" textLength="99" lengthAdjust="spacingAndGlyphs">L6401</text>
<text class="t" style="font-size:40px" x="2867" y="2101" textLength="100" lengthAdjust="spacingAndGlyphs">U6401</text>
<text class="t" style="font-size:38px" transform="translate(2995,1934) rotate(-90)" textLength="100" lengthAdjust="spacingAndGlyphs">C6406</text>
<text class="t" style="font-size:24px" transform="translate(3066,1940) rotate(-90)" textLength="66" lengthAdjust="spacingAndGlyphs">C6403</text>
<text class="t" style="font-size:40px" transform="translate(3037,2075) rotate(-90)" textLength="100" lengthAdjust="spacingAndGlyphs">L6402</text>
<text class="t" style="font-size:28px" x="3046" y="2181" textLength="72" lengthAdjust="spacingAndGlyphs">C6408</text>
<text class="t" style="font-size:28px" transform="translate(2692,2188) rotate(180)" textLength="72" lengthAdjust="spacingAndGlyphs">C6407</text>
<text class="t" style="font-size:42px" transform="translate(3259,1950) rotate(180)" textLength="102" lengthAdjust="spacingAndGlyphs">J6502</text>
<g class="s">
<text class="t" transform="translate(3156,1870) rotate(-90)">C6516</text>
<text class="t" transform="translate(3156,1923) rotate(-90)">R6506</text>
<text class="t" transform="translate(3156,1958) rotate(-90)">R6504</text>
<text class="t" transform="translate(3156,2001) rotate(-90)">C6514</text>
<text class="t" transform="translate(3156,2045) rotate(-90)">R6505</text>
<text class="t" transform="translate(3156,2080) rotate(-90)">C6515</text>
<text class="t" x="3324" y="2101">RT4200</text>
<text class="t" transform="translate(2971,2197) rotate(90)">R6403</text>
</g>

<!-- J6300 SIM tray -->
<g class="th">
<path d="M 226,1225 L 1555,1225 L 1555,2049 L 312,2049 M 189,1238 L 1555,1238 M 189,1238 L 189,1983 L 309,1983 L 309,2156 L 181,2156 L 181,2013 M 312,2061 L 1555,2061"/>
<path d="M 182,1290 L 182,1310 Q 190,1330 225,1337 L 253,1550 L 253,1800 M 197,1290 L 197,1315 Q 205,1325 238,1340 L 265,1550 L 265,1800 M 226,1900 L 226,1300"/>
<path d="M 285,2020 Q 280,2003 260,2005 Q 248,2010 248,2030 L 248,2138 L 277,2138 L 277,2040 Q 277,2030 285,2020"/>
<circle cx="224" cy="1379" r="15"/><circle cx="224" cy="1379" r="23"/><circle cx="224" cy="1840" r="15"/><circle cx="224" cy="1840" r="23"/>
<rect x="177" y="1251" width="89" height="30" rx="15"/><rect x="190" y="1258" width="60" height="14"/>
<rect x="177" y="1947" width="89" height="35" rx="17"/><rect x="190" y="1957" width="60" height="14"/>
<rect x="287" y="1239" width="1221" height="116"/>
<rect x="287" y="1869" width="1221" height="176"/>
<path d="M 698,1238 L 698,1250 L 1142,1250 L 1142,1238 M 760,1250 L 863,1250 L 913,1282 L 963,1250 M 863,1243 L 913,1275 L 963,1243"/>
<path d="M 698,2049 L 698,1979 L 1142,1979 L 1142,2049 M 760,1979 L 860,1979 L 916,1958 L 972,1979 M 782,2010 L 1120,2010 M 780,2020 L 780,2049 M 1120,2020 L 1120,2049"/>
<path d="M 455,1998 L 590,1998 L 590,2049 M 455,1998 L 455,2012 L 590,2012 M 470,2012 L 470,2049"/>
<rect x="1352" y="1288" width="121" height="56" rx="10"/><path d="M 1410,1290 L 1410,1342 M 1450,1300 L 1450,1330"/>
<rect x="1352" y="1886" width="121" height="62" rx="10"/><path d="M 1410,1888 L 1410,1946 M 1450,1900 L 1450,1932"/>
<rect x="1436" y="1464" width="79" height="128" rx="20"/><path d="M 1460,1470 L 1480,1520 L 1480,1590 M 1495,1500 L 1515,1500"/>
<rect x="1405" y="1638" width="116" height="62" rx="12"/><path d="M 1470,1645 L 1470,1694"/>
<circle cx="1515" cy="1824" r="23"/><circle cx="1515" cy="1824" r="17"/>
<rect x="1555" y="1258" width="34" height="70"/><rect x="1530" y="1348" width="40" height="50"/>
<rect x="1550" y="1570" width="30" height="90"/><rect x="1555" y="1795" width="34" height="70"/><rect x="1555" y="1935" width="34" height="70"/>
</g>
<g class="th">
<rect x="374" y="1196" width="96" height="51"/><rect x="384" y="1210" width="76" height="35" rx="8"/><path d="M 405,1210 Q 422,1222 440,1210"/>
<rect x="581" y="1196" width="92" height="51"/><rect x="591" y="1210" width="72" height="35" rx="8"/><path d="M 610,1210 Q 627,1222 645,1210"/>
<rect x="1166" y="1196" width="84" height="51"/><rect x="1175" y="1210" width="66" height="35" rx="8"/><path d="M 1192,1210 Q 1208,1222 1224,1210"/>
<rect x="1350" y="1196" width="81" height="51"/><rect x="1359" y="1210" width="63" height="35" rx="8"/><path d="M 1374,1210 Q 1390,1222 1406,1210"/>
<rect x="410" y="2045" width="96" height="43"/><rect x="420" y="2050" width="75" height="30" rx="8"/><path d="M 440,2080 Q 457,2068 475,2080"/>
<rect x="805" y="2045" width="89" height="43"/><rect x="815" y="2050" width="69" height="30" rx="8"/><path d="M 832,2080 Q 849,2068 866,2080"/>
<rect x="1258" y="2045" width="81" height="43"/><rect x="1267" y="2050" width="63" height="30" rx="8"/><path d="M 1282,2080 Q 1298,2068 1315,2080"/>
</g>
<g class="th">
<rect x="234" y="1452" width="368" height="61"/>
<rect x="234" y="1701" width="368" height="61"/>
<rect x="267" y="1398" width="46" height="124" rx="23" fill="#fff"/><rect x="279" y="1492" width="26" height="24" rx="5"/>
<rect x="396" y="1398" width="46" height="124" rx="23" fill="#fff"/><rect x="408" y="1492" width="26" height="24" rx="5"/>
<rect x="523" y="1398" width="46" height="124" rx="23" fill="#fff"/><rect x="535" y="1492" width="26" height="24" rx="5"/>
<circle cx="352" cy="1460" r="22" fill="#fff"/><circle cx="352" cy="1460" r="15"/><circle cx="479" cy="1460" r="22" fill="#fff"/><circle cx="479" cy="1460" r="15"/>
<rect x="267" y="1692" width="46" height="124" rx="23" fill="#fff"/><rect x="279" y="1698" width="26" height="24" rx="5"/>
<rect x="396" y="1692" width="46" height="124" rx="23" fill="#fff"/><rect x="408" y="1698" width="26" height="24" rx="5"/>
<rect x="523" y="1692" width="46" height="124" rx="23" fill="#fff"/><rect x="535" y="1698" width="26" height="24" rx="5"/>
<circle cx="352" cy="1751" r="22" fill="#fff"/><circle cx="352" cy="1751" r="15"/><circle cx="479" cy="1751" r="22" fill="#fff"/><circle cx="479" cy="1751" r="15"/>
<rect x="292" y="1572" width="32" height="70" rx="6"/><rect x="298" y="1582" width="20" height="20" rx="5"/><rect x="298" y="1614" width="20" height="20"/>
<rect x="363" y="1572" width="32" height="70" rx="6"/><rect x="369" y="1582" width="20" height="20" rx="5"/><rect x="369" y="1614" width="20" height="20"/>
<rect x="442" y="1572" width="32" height="70" rx="6"/><rect x="448" y="1582" width="20" height="20" rx="5"/><rect x="448" y="1614" width="20" height="20"/>
<rect x="510" y="1572" width="32" height="70" rx="6"/><rect x="516" y="1582" width="20" height="20" rx="5"/><rect x="516" y="1614" width="20" height="20"/>
<rect x="571" y="1572" width="32" height="70" rx="6"/><rect x="577" y="1582" width="20" height="20" rx="5"/><rect x="577" y="1614" width="20" height="20"/>
<rect x="240" y="1570" width="20" height="45"/><rect x="240" y="1620" width="20" height="35"/>
</g>
<g class="th">
<rect x="1005" y="1468" width="368" height="62"/>
<rect x="1005" y="1716" width="368" height="62"/>
<rect x="1036" y="1413" width="46" height="124" rx="23" fill="#fff"/><rect x="1048" y="1507" width="26" height="24" rx="5"/>
<rect x="1165" y="1413" width="46" height="124" rx="23" fill="#fff"/><rect x="1177" y="1507" width="26" height="24" rx="5"/>
<rect x="1293" y="1413" width="46" height="124" rx="23" fill="#fff"/><rect x="1305" y="1507" width="26" height="24" rx="5"/>
<circle cx="1126" cy="1468" r="22" fill="#fff"/><circle cx="1126" cy="1468" r="15"/><circle cx="1252" cy="1468" r="22" fill="#fff"/><circle cx="1252" cy="1468" r="15"/>
<rect x="1036" y="1708" width="46" height="124" rx="23" fill="#fff"/><rect x="1048" y="1714" width="26" height="24" rx="5"/>
<rect x="1165" y="1708" width="46" height="124" rx="23" fill="#fff"/><rect x="1177" y="1714" width="26" height="24" rx="5"/>
<rect x="1293" y="1708" width="46" height="124" rx="23" fill="#fff"/><rect x="1305" y="1714" width="26" height="24" rx="5"/>
<circle cx="1126" cy="1770" r="22" fill="#fff"/><circle cx="1126" cy="1770" r="15"/><circle cx="1252" cy="1770" r="22" fill="#fff"/><circle cx="1252" cy="1770" r="15"/>
<rect x="1003" y="1584" width="32" height="74" rx="6"/><rect x="1009" y="1594" width="20" height="20" rx="5"/><rect x="1009" y="1628" width="20" height="20"/>
<rect x="1063" y="1584" width="32" height="74" rx="6"/><rect x="1069" y="1594" width="20" height="20" rx="5"/><rect x="1069" y="1628" width="20" height="20"/>
<rect x="1131" y="1584" width="32" height="74" rx="6"/><rect x="1137" y="1594" width="20" height="20" rx="5"/><rect x="1137" y="1628" width="20" height="20"/>
<rect x="1210" y="1584" width="32" height="74" rx="6"/><rect x="1216" y="1594" width="20" height="20" rx="5"/><rect x="1216" y="1628" width="20" height="20"/>
<rect x="1278" y="1584" width="32" height="74" rx="6"/><rect x="1284" y="1594" width="20" height="20" rx="5"/><rect x="1284" y="1628" width="20" height="20"/>
<rect x="1339" y="1584" width="32" height="74" rx="6"/><rect x="1345" y="1594" width="20" height="20" rx="5"/><rect x="1345" y="1628" width="20" height="20"/>
</g>
<g class="th">
<rect x="747" y="1371" width="190" height="35"/><rect x="747" y="1425" width="190" height="35"/>
<rect x="747" y="1481" width="190" height="35"/><rect x="747" y="1536" width="190" height="35"/>
<rect x="747" y="1592" width="190" height="35"/><rect x="747" y="1647" width="190" height="35"/>
<rect x="747" y="1703" width="190" height="34"/><rect x="747" y="1758" width="190" height="35"/>
<rect x="773" y="1376" width="66" height="79" rx="30" fill="#fff"/><path d="M 773,1415 L 839,1415 M 806,1376 L 806,1455"/>
<rect x="773" y="1487" width="66" height="79" rx="30" fill="#fff"/><path d="M 773,1526 L 839,1526 M 806,1487 L 806,1566"/>
<rect x="773" y="1598" width="66" height="79" rx="30" fill="#fff"/><path d="M 773,1637 L 839,1637 M 806,1598 L 806,1677"/>
<rect x="773" y="1708" width="66" height="80" rx="30" fill="#fff"/><path d="M 773,1748 L 839,1748 M 806,1708 L 806,1788"/>
<rect x="679" y="1402" width="40" height="81" rx="14"/><path d="M 685,1420 L 713,1420 M 685,1465 L 713,1465 M 699,1410 L 699,1475"/>
<rect x="679" y="1514" width="40" height="82" rx="14"/><path d="M 685,1532 L 713,1532 M 685,1578 L 713,1578 M 699,1522 L 699,1588"/>
<rect x="679" y="1623" width="40" height="81" rx="14"/><path d="M 685,1641 L 713,1641 M 685,1686 L 713,1686 M 699,1631 L 699,1696"/>
<rect x="679" y="1735" width="40" height="81" rx="14"/><path d="M 685,1753 L 713,1753 M 685,1798 L 713,1798 M 699,1743 L 699,1808"/>
</g>
<text class="t" style="font-size:54px" transform="translate(973,1636) rotate(-90)" textLength="136" lengthAdjust="spacingAndGlyphs">J6300</text>
<g class="s">
<text class="t" x="837" y="2117">R6310</text>
<text class="t" transform="translate(826,2155) rotate(90)">C6300</text>
<text class="t" transform="translate(850,2155) rotate(90)">C6301</text>
<text class="t" transform="translate(873,2155) rotate(90)">C6311</text>
<text class="t" transform="translate(902,2122) rotate(90)">R6308</text>
<text class="t" transform="translate(926,2119) rotate(90)">R6307</text>
<text class="t" transform="translate(921,2165) rotate(90)">C6306</text>
<text class="t" transform="translate(949,2119) rotate(90)">R6309</text>
<text class="t" transform="translate(947,2165) rotate(90)">C6309</text>
<text class="t" transform="translate(973,2165) rotate(90)">R6304</text>
<text class="t" transform="translate(982,2119) rotate(90)">R6317</text>
<text class="t" transform="translate(1005,2119) rotate(90)">R6316</text>
<text class="t" transform="translate(1034,2122) rotate(90)">C6304</text>
<text class="t" transform="translate(1060,2122) rotate(90)">C6305</text>
<text class="t" transform="translate(1063,2165) rotate(90)">R6315</text>
<text class="t" transform="translate(1089,2165) rotate(90)">R6314</text>
<text class="t" transform="translate(1123,2119) rotate(90)">R6301</text>
<text class="t" transform="translate(1150,2119) rotate(90)">R6306</text>
<text class="t" transform="translate(1147,2165) rotate(90)">C6308</text>
<text class="t" transform="translate(1176,2122) rotate(90)">R6305</text>
<text class="t" transform="translate(1202,2122) rotate(90)">R6313</text>
<text class="t" transform="translate(1202,2165) rotate(90)">C6310</text>
<text class="t" transform="translate(1226,2119) rotate(90)">R6311</text>
<text class="t" transform="translate(1229,2165) rotate(90)">C6307</text>
<text class="t" transform="translate(1250,2126) rotate(90)">R6312</text>
<text class="t" transform="translate(1292,2130) rotate(90)">R6318</text>
<text class="t" transform="translate(1319,2130) rotate(90)">C6312</text>
<text class="t" transform="translate(1345,2126) rotate(90)">C6302</text>
<text class="t" transform="translate(1370,2126) rotate(90)">C6303</text>
</g>
</svg>
</body></html>
